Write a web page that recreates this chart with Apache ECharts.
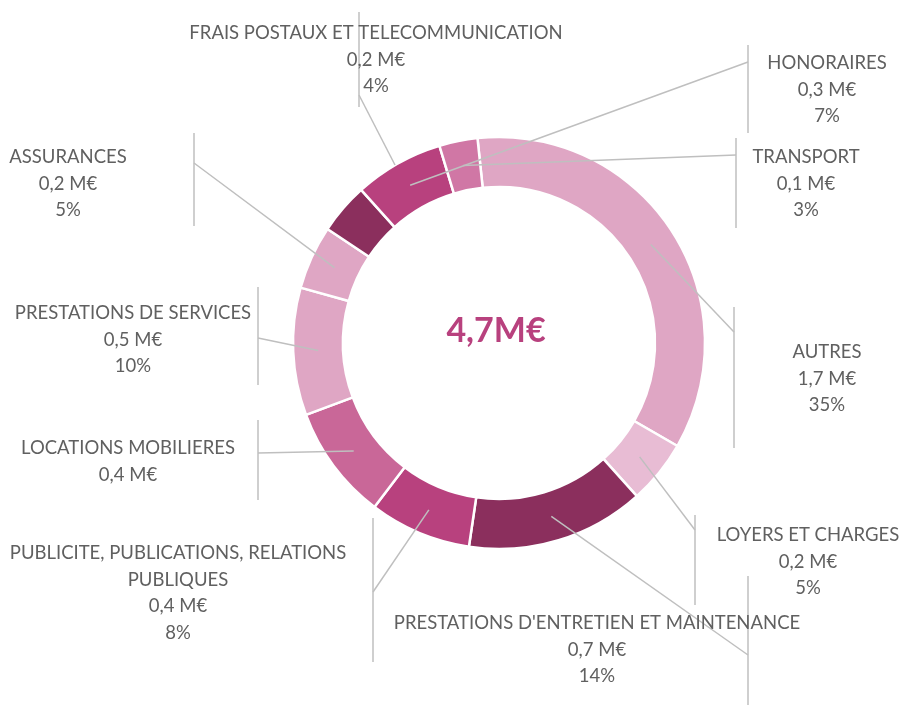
<!DOCTYPE html>
<html>
<head>
<meta charset="utf-8">
<script src="https://cdn.jsdelivr.net/npm/echarts@6/dist/echarts.min.js"></script>
<style>
	html, body { margin: 0; padding: 0; background: #fff; }
	#chart { width: 900px; height: 718px; }
</style>
</head>
<body>
<div id="chart"></div>
<script>
	// données (sens horaire, à partir de "AUTRES")
	var categories = [
		"AUTRES",
		"LOYERS ET CHARGES",
		"PRESTATIONS D'ENTRETIEN ET MAINTENANCE",
		"PUBLICITE, PUBLICATIONS, RELATIONS PUBLIQUES",
		"LOCATIONS MOBILIERES",
		"PRESTATIONS DE SERVICES",
		"ASSURANCES",
		"FRAIS POSTAUX ET TELECOMMUNICATION",
		"HONORAIRES",
		"TRANSPORT"
	];
	var amounts = [1.7, 0.2, 0.7, 0.4, 0.4, 0.5, 0.2, 0.2, 0.3, 0.1]; // M€
	var shares = [35, 5, 14, 8, 9, 10, 5, 4, 7, 3]; // %
	var noPct = ["LOCATIONS MOBILIERES"];
	var colors = ["#dfa6c4", "#e8bcd4", "#8b2f5d", "#b8417e", "#c96798",
		"#dfa6c4", "#dfa6c4", "#8b2f5d", "#b8417e", "#d077a5"];

	// position des étiquettes (centre x, haut y) et des barres verticales
	var labelBoxes = [
		{ x: 827, y: 339, bar: [734, 307, 448], hook: 332 },
		{ x: 808, y: 522, bar: [695, 515, 605], hook: 530 },
		{ x: 597, y: 610, bar: [748, 576, 705], hook: 655 },
		{ x: 178, y: 540, bar: [373, 518, 662], hook: 592 },
		{ x: 128, y: 435, bar: [258, 420, 500], hook: 453 },
		{ x: 133, y: 300, bar: [258, 287, 385], hook: 338 },
		{ x: 68, y: 144, bar: [194, 133, 226], hook: 163 },
		{ x: 376, y: 20, bar: [359, 12, 107], hook: 95, tip: [395, 165] },
		{ x: 827, y: 50, bar: [748, 45, 133], hook: 62 },
		{ x: 806, y: 144, bar: [736, 138, 228], hook: 155 }
	];

	var cx = 499, cy = 343, rIn = 156, rOut = 206;
	var lineColor = "#bfbfbf";
	var font = "Lato, 'Open Sans', sans-serif";

	function fmt(v) {
		return v.toFixed(1).replace(".", ",");
	}

	var total = amounts.reduce(function(a, b) { return a + b; }, 0);

	var chart = echarts.init(document.getElementById("chart"));

	var bars = labelBoxes.map(function(b) {
		return {
			type: "line",
			silent: true,
			shape: { x1: b.bar[0], y1: b.bar[1], x2: b.bar[0], y2: b.bar[2] },
			style: { stroke: lineColor, lineWidth: 1.5 }
		};
	});

	chart.setOption({
		animation: false,
		graphic: bars.concat([{
			type: "text",
			silent: true,
			style: {
				x: cx - 3,
				y: 331,
				text: fmt(total) + "M€",
				textAlign: "center",
				textVerticalAlign: "middle",
				fill: "#b8417e",
				font: "bold 34px " + font
			}
		}]),
		series: [{
			// anneau
			type: "pie",
			z: 2,
			center: [cx, cy],
			radius: [rIn, rOut],
			startAngle: 96,
			clockwise: true,
			itemStyle: { borderColor: "#fff", borderWidth: 2.5 },
			emphasis: { disabled: true },
			label: { show: false },
			labelLine: { show: false },
			data: categories.map(function(c, i) {
				return { name: c, value: shares[i], itemStyle: { color: colors[i] } };
			})
		}, {
			// étiquettes et traits de rappel, au-dessus de l'anneau
			type: "pie",
			z: 5,
			silent: true,
			center: [cx, cy],
			radius: [rIn, rOut],
			startAngle: 96,
			clockwise: true,
			avoidLabelOverlap: false,
			itemStyle: { color: "transparent", borderWidth: 0 },
			emphasis: { disabled: true },
			label: {
				show: true,
				position: "outside",
				color: "#606060",
				fontFamily: font,
				fontSize: 18.5,
				lineHeight: 26.5,
				formatter: function(p) {
					var i = p.dataIndex;
					var name = categories[i].replace(", RELATIONS PUBLIQUES", ", RELATIONS\nPUBLIQUES");
					var s = name + "\n" + fmt(amounts[i]) + " M€";
					if (noPct.indexOf(categories[i]) < 0) s += "\n" + shares[i] + "%";
					return s;
				}
			},
			labelLine: {
				show: true,
				length: 10,
				length2: 10,
				lineStyle: { color: lineColor, width: 1.5 }
			},
			labelLayout: function(params) {
				var b = labelBoxes[params.dataIndex];
				var p0 = params.labelLinePoints ? params.labelLinePoints[0] : [cx, cy];
				var k = (rIn + rOut) / 2 / rOut;
				var start = b.tip || [cx + (p0[0] - cx) * k, cy + (p0[1] - cy) * k];
				var end = [b.bar[0], b.hook];
				return {
					x: b.x,
					y: b.y,
					align: "center",
					verticalAlign: "top",
					labelLinePoints: [start, end, end]
				};
			},
			data: categories.map(function(c, i) {
				return { name: c, value: shares[i] };
			})
		}]
	});
</script>
</body>
</html>
